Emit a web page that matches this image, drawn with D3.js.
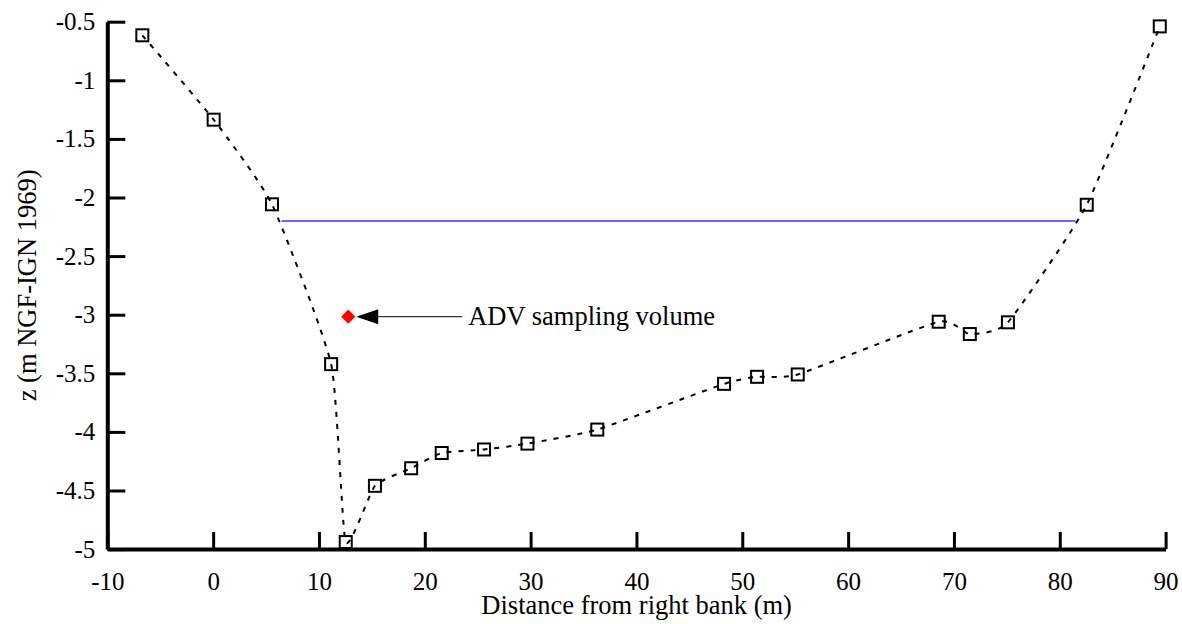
<!DOCTYPE html>
<html>
<head>
<meta charset="utf-8">
<script src="https://cdnjs.cloudflare.com/ajax/libs/d3/7.8.5/d3.min.js"></script>
<style>
  body { margin: 0; background: #fff; }
  svg text { font-family: "Liberation Serif", "Times New Roman", serif; fill: #000; }
</style>
</head>
<body>
<div id="chart"></div>
<script>
// cross-section profile, distance from right bank (m) and bed level (m NGF-IGN 1969)
var distance = [-6.69, 0.05, 5.56, 11.15, 12.53, 15.29, 18.71, 21.6, 25.6, 29.7,
                36.3, 48.28, 51.4, 55.24, 68.56, 71.5, 75.1, 82.55, 89.45];
var bedLevel = [-0.616, -1.336, -2.058, -3.422, -4.94, -4.46, -4.31, -4.18, -4.15, -4.10,
                -3.98, -3.59, -3.53, -3.51, -3.06, -3.165, -3.065, -2.062, -0.54];

// free surface
var waterX = [6.47, 81.5];
var waterLevel = -2.2;

// ADV sampling point
var advPoint = {x: 12.77, z: -3.017};
var advLabel = "ADV sampling volume";
var advLabelX = 24.1;

var xTicks = [-10, 0, 10, 20, 30, 40, 50, 60, 70, 80, 90];
var yTicks = [-5, -4.5, -4, -3.5, -3, -2.5, -2, -1.5, -1, -0.5];

var xTitle = "Distance from right bank (m)";
var yTitle = "z (m NGF-IGN 1969)";

var W = 1182, H = 624;
var margin = {top: 21.7, right: 16, bottom: 75, left: 107.3};
var width = W - margin.left - margin.right,
    height = H - margin.top - margin.bottom;

var x = d3.scaleLinear().domain([-10, 90]).range([0, width - 0.4]);
var y = d3.scaleLinear().domain([-5, -0.5]).range([height + 0.1, 0]);

var svg = d3.select("#chart").append("svg")
    .attr("width", W)
    .attr("height", H)
  .append("g")
    .attr("transform", "translate(" + margin.left + "," + margin.top + ")");

// axes, ticks pointing inwards
var xAxis = d3.axisBottom(x).tickValues(xTicks)
    .tickSizeInner(-17).tickSizeOuter(0).tickPadding(23)
    .tickFormat(function(d){ return String(d); });
var yAxis = d3.axisLeft(y).tickValues(yTicks)
    .tickSizeInner(-18).tickSizeOuter(0).tickPadding(12)
    .tickFormat(function(d){ return String(d); });

var gx = svg.append("g")
    .attr("transform", "translate(0," + height + ")")
    .call(xAxis);
var gy = svg.append("g").call(yAxis);

[gx, gy].forEach(function(g){
    g.attr("font-family", null).attr("font-size", 25);
    g.select(".domain").attr("stroke", "#000").attr("stroke-width", 4);
    g.selectAll(".tick line").attr("stroke", "#000").attr("stroke-width", 3);
    g.selectAll(".tick text").attr("fill", "#000");
});

// water line
svg.append("line")
    .attr("x1", x(waterX[0])).attr("x2", x(waterX[1]))
    .attr("y1", y(waterLevel)).attr("y2", y(waterLevel))
    .attr("stroke", "#3535ff")
    .attr("stroke-width", 1.5);

// bed profile
var profile = distance.map(function(d, i){ return {x: d, z: bedLevel[i]}; });

var line = d3.line()
    .x(function(d){ return x(d.x); })
    .y(function(d){ return y(d.z); })
    .curve(d3.curveCardinal.tension(0.5));

svg.append("path")
    .datum(profile)
    .attr("d", line)
    .attr("fill", "none")
    .attr("stroke", "#000")
    .attr("stroke-width", 2)
    .attr("stroke-dasharray", "5,7");

svg.selectAll(".pt")
    .data(profile)
  .enter().append("rect")
    .attr("class", "pt")
    .attr("x", function(d){ return x(d.x) - 6; })
    .attr("y", function(d){ return y(d.z) - 6; })
    .attr("width", 12)
    .attr("height", 12)
    .attr("fill", "none")
    .attr("stroke", "#000")
    .attr("stroke-width", 2);

// ADV point + arrow annotation
var ax = x(advPoint.x), ay = y(advPoint.z);

svg.append("line")
    .attr("x1", ax + 20).attr("x2", x(advLabelX) - 6)
    .attr("y1", ay).attr("y2", ay)
    .attr("stroke", "#000")
    .attr("stroke-width", 1);

svg.append("path")
    .attr("d", "M" + (ax + 8) + "," + ay + "L" + (ax + 30) + "," + (ay - 7.5) +
               "L" + (ax + 30) + "," + (ay + 7.5) + "Z")
    .attr("fill", "#000");

svg.append("rect")
    .attr("x", -5).attr("y", -5)
    .attr("width", 10).attr("height", 10)
    .attr("transform", "translate(" + ax + "," + ay + ") rotate(45)")
    .attr("fill", "#ff0000");

svg.append("text")
    .attr("x", x(advLabelX))
    .attr("y", ay)
    .attr("dy", "0.33em")
    .attr("font-size", 26.5)
    .text(advLabel);

// axis titles
svg.append("text")
    .attr("x", width / 2)
    .attr("y", height + 65)
    .attr("text-anchor", "middle")
    .attr("font-size", 26.5)
    .text(xTitle);

svg.append("text")
    .attr("transform", "translate(" + (-71) + "," + (height / 2) + ") rotate(-90)")
    .attr("text-anchor", "middle")
    .attr("font-size", 26.5)
    .text(yTitle);
</script>
</body>
</html>
